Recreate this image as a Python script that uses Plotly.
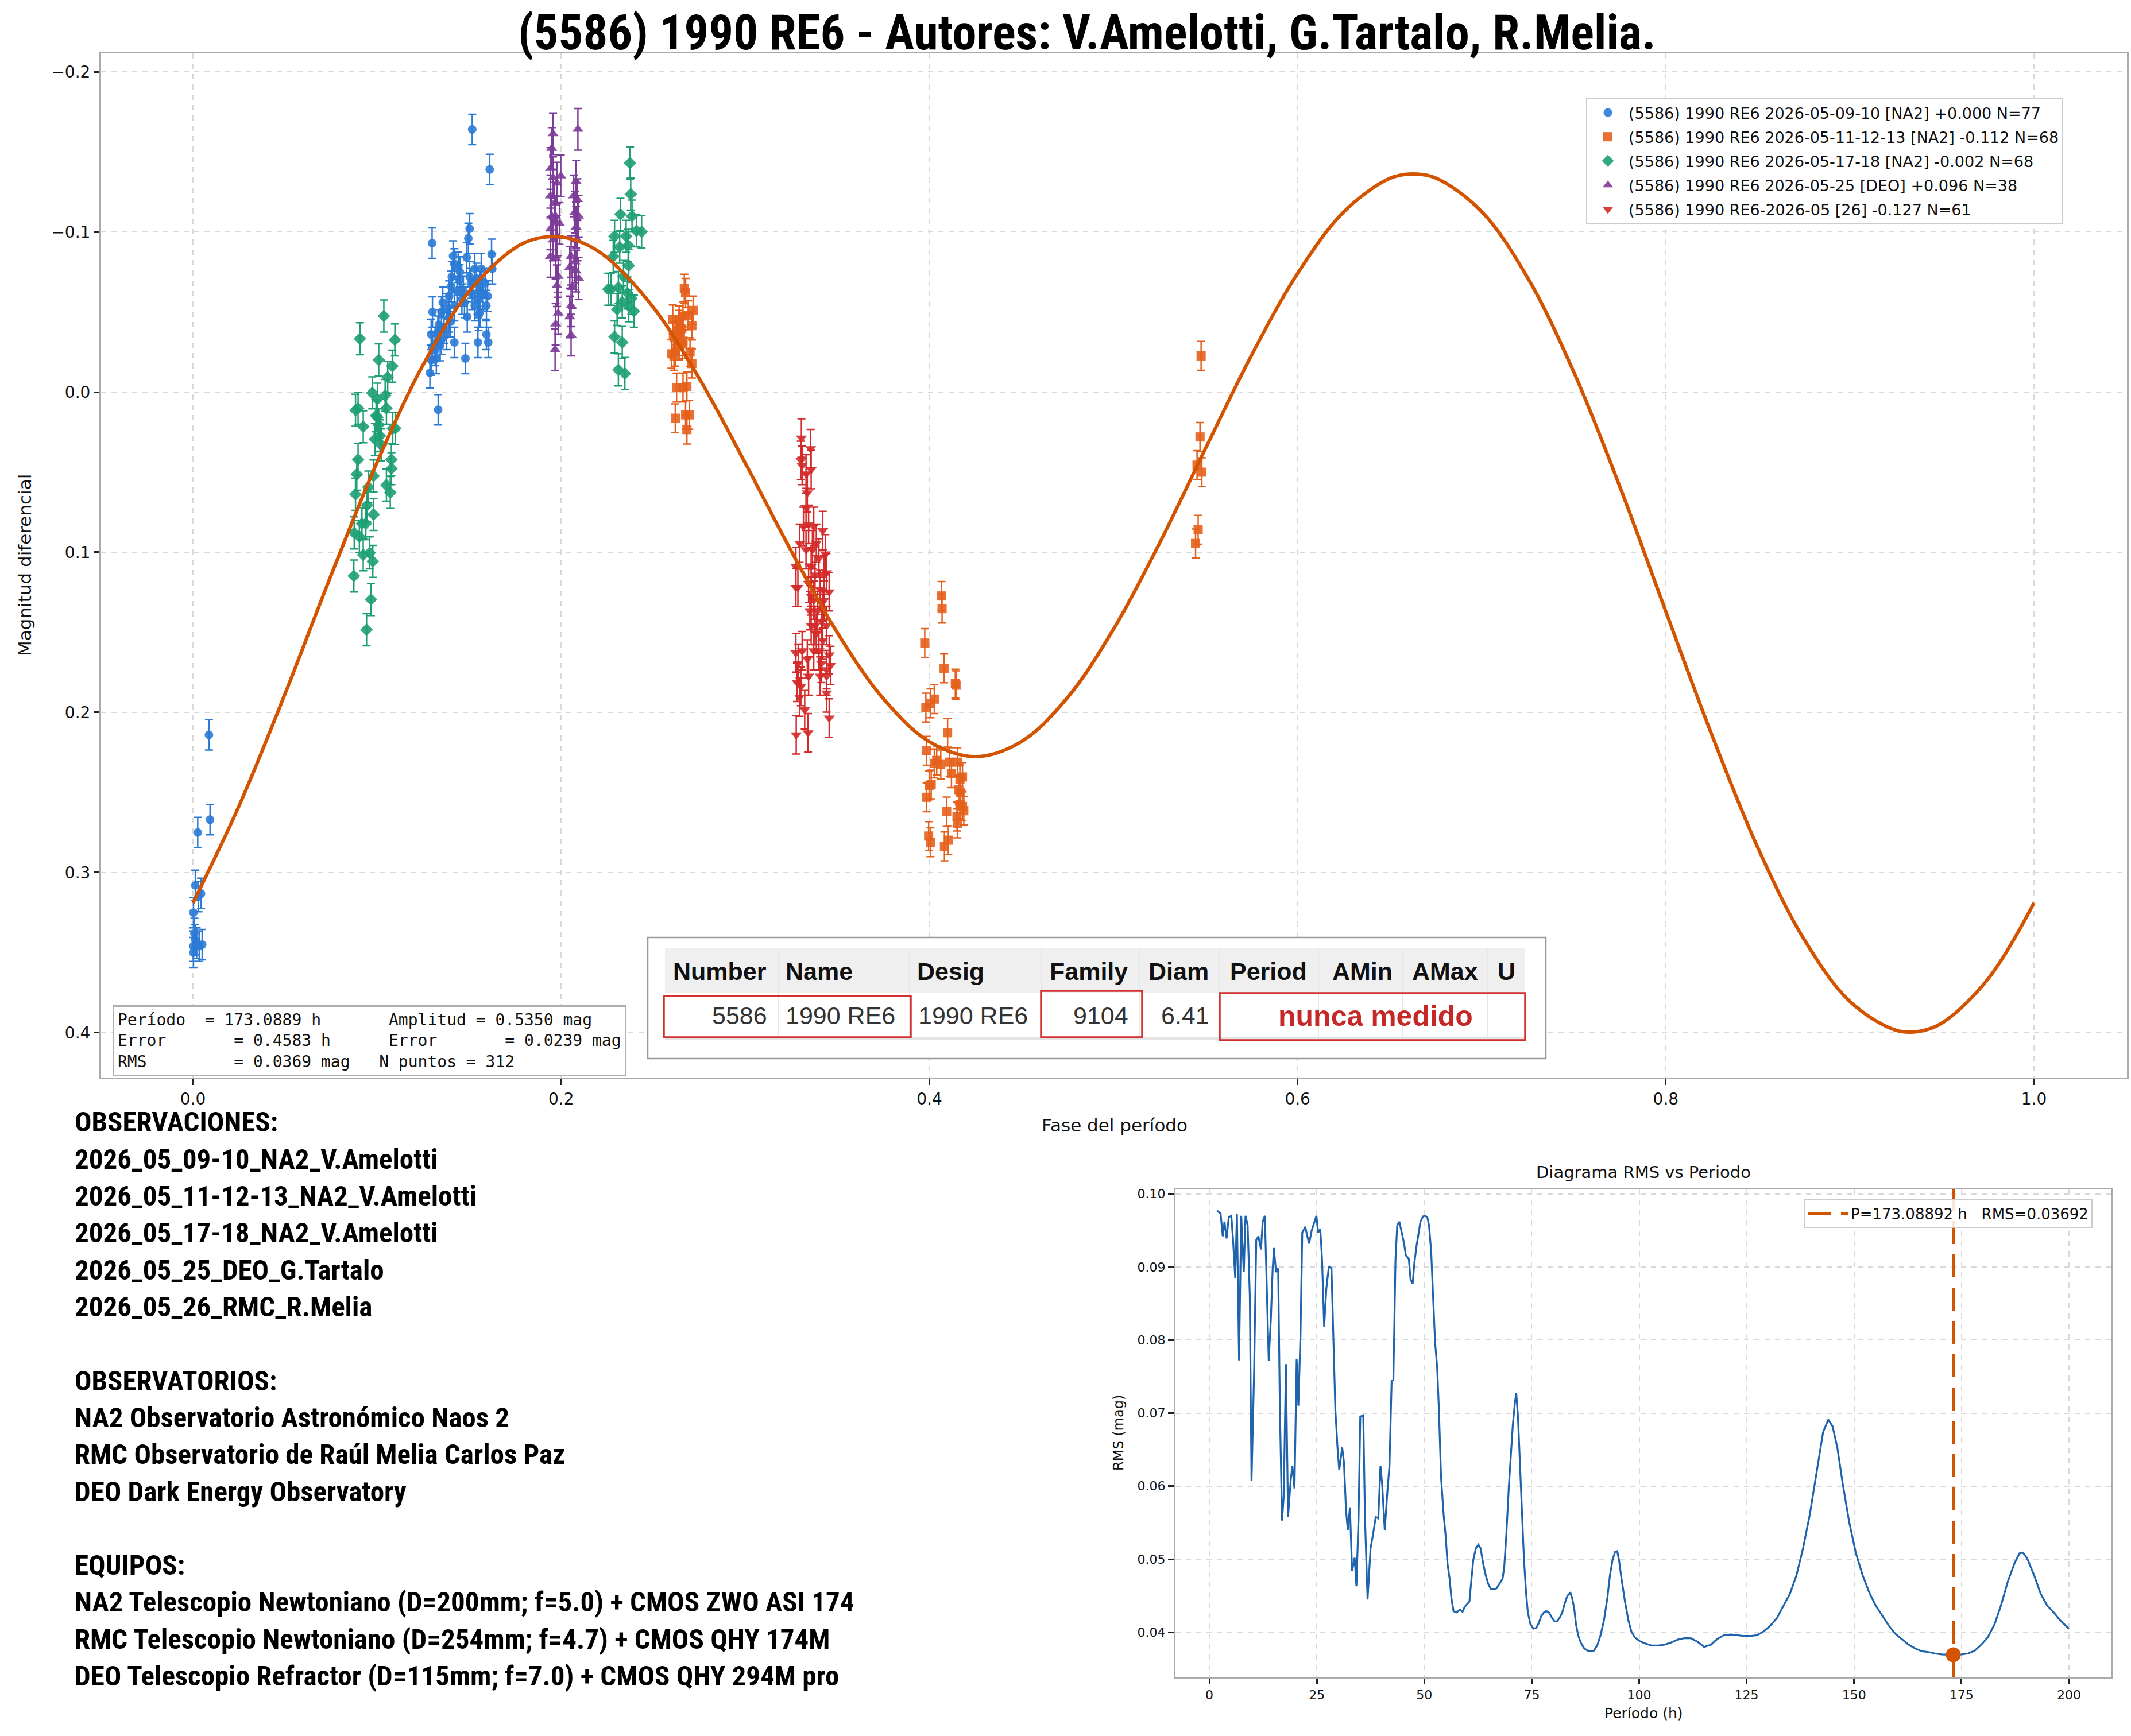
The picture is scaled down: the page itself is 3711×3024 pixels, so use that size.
import plotly.graph_objects as go

W, H = 3711, 3024


def fx(px):
    return px / W


def fy(py):
    return 1 - py / H


# ---------------- text ----------------
TITLE_TEXT = "(5586) 1990 RE6 - Autores: V.Amelotti, G.Tartalo, R.Melia."
SESSION_NAMES = [
    "(5586) 1990 RE6 2026-05-09-10 [NA2] +0.000 N=77",
    "(5586) 1990 RE6 2026-05-11-12-13 [NA2] -0.112 N=68",
    "(5586) 1990 RE6 2026-05-17-18 [NA2] -0.002 N=68",
    "(5586) 1990 RE6 2026-05-25 [DEO] +0.096 N=38",
    "(5586) 1990 RE6-2026-05 [26] -0.127 N=61",
]
NOTES_LINES = [
    "OBSERVACIONES:",
    "2026_05_09-10_NA2_V.Amelotti",
    "2026_05_11-12-13_NA2_V.Amelotti",
    "2026_05_17-18_NA2_V.Amelotti",
    "2026_05_25_DEO_G.Tartalo",
    "2026_05_26_RMC_R.Melia",
    "",
    "OBSERVATORIOS:",
    "NA2 Observatorio Astronómico Naos 2",
    "RMC Observatorio de Raúl Melia Carlos Paz",
    "DEO Dark Energy Observatory",
    "",
    "EQUIPOS:",
    "NA2 Telescopio Newtoniano (D=200mm; f=5.0) + CMOS ZWO ASI 174",
    "RMC Telescopio Newtoniano (D=254mm; f=4.7) + CMOS QHY 174M",
    "DEO Telescopio Refractor (D=115mm; f=7.0) + CMOS QHY 294M pro",
]
TABLE_HEADERS = ["Number", "Name", "Desig", "Family", "Diam", "Period", "AMin", "AMax", "U"]
TABLE_ROW = ["5586", "1990 RE6", "1990 RE6", "9104", "6.41"]
TABLE_NOTE = "nunca medido"

# ---------------- fit results ----------------
PERIOD_H = 173.0889
PERIOD_ERR = 0.4583
AMPLITUDE = 0.5350
AMPLITUDE_ERR = 0.0239
RMS_FIT = 0.0369
N_POINTS = 312
BEST_PERIOD = 173.08892
BEST_RMS = 0.03692

# ---------------- light-curve data ----------------
S1_PHASE = [0.0087, 0.0093, 0.0026, 0.0013, 0.0044, 0.0030, 0.0003, 0.0012, 0.0002, 0.0034,
            0.0003, 0.0020, 0.0050, 0.0008,
            0.1517, 0.1612, 0.1299, 0.1503, 0.1496, 0.1487, 0.1413, 0.1441, 0.1406, 0.1403,
            0.1448, 0.1469, 0.1503, 0.1531, 0.1566, 0.1622, 0.1626, 0.1559, 0.1587, 0.1517,
            0.1545, 0.1573, 0.1531, 0.1559, 0.1552, 0.1594, 0.1357, 0.1301, 0.1392, 0.1364,
            0.1336, 0.1294, 0.1322, 0.1350, 0.1378, 0.1420, 0.1315, 0.1343, 0.1322, 0.1294,
            0.1287, 0.1480, 0.1548, 0.1594, 0.1604, 0.1332, 0.1461, 0.1434, 0.1420, 0.1392,
            0.1380, 0.1450, 0.1510, 0.1560, 0.1330, 0.1400, 0.1475, 0.1300, 0.1350, 0.1540,
            0.1600, 0.1420, 0.1490]
S1_MAG = [0.214, 0.267, 0.275, 0.308, 0.313, 0.315, 0.325, 0.342, 0.346, 0.346,
          0.350, 0.344, 0.345, 0.338,
          -0.164, -0.139, -0.093, -0.102, -0.096, -0.084, -0.085, -0.078, -0.072, -0.066,
          -0.070, -0.063, -0.072, -0.077, -0.077, -0.086, -0.077, -0.066, -0.068, -0.061,
          -0.058, -0.061, -0.054, -0.050, -0.048, -0.054, -0.056, -0.050, -0.047, -0.040,
          -0.042, -0.036, -0.031, -0.033, -0.036, -0.031, -0.026, -0.029, -0.021, -0.020,
          -0.012, -0.021, -0.031, -0.036, -0.031, 0.011, -0.058, -0.063, -0.054, -0.060,
          -0.052, -0.075, -0.068, -0.063, -0.038, -0.044, -0.056, -0.028, -0.050, -0.071,
          -0.060, -0.080, -0.047]

S2_PHASE = [0.2669, 0.2676, 0.2606, 0.2641, 0.2662, 0.2717, 0.2710, 0.2627, 0.2648, 0.2662,
            0.2599, 0.2620, 0.2641, 0.2710, 0.2627, 0.2662, 0.2683, 0.2620, 0.2676, 0.2696,
            0.2683, 0.2613, 0.2655, 0.2640, 0.2660, 0.2690, 0.2610, 0.2700,
            0.4066, 0.4069, 0.3975, 0.4080, 0.4141, 0.4145, 0.3981, 0.4006, 0.4027, 0.4099,
            0.3985, 0.4027, 0.4062, 0.4110, 0.4152, 0.3999, 0.4166, 0.4180, 0.4159, 0.3985,
            0.4094, 0.4166, 0.4187, 0.4152, 0.3996, 0.4006, 0.4103, 0.4082, 0.4180,
            0.4040, 0.4120, 0.4170, 0.4010, 0.4150,
            0.5476, 0.5470, 0.5454, 0.5480, 0.5460, 0.5446]
S2_MAG = [-0.0646, -0.0620, -0.0454, -0.0449, -0.0475, -0.0510, -0.0415, -0.0383, -0.0357, -0.0318,
          -0.0239, -0.0252, -0.0291, -0.0178, -0.0028, -0.0028, -0.0036, 0.0163, 0.0142, 0.0142,
          0.0234, -0.0226, -0.0397, -0.0420, -0.0300, -0.0480, -0.0350, -0.0250,
          0.1273, 0.1352, 0.1567, 0.1725, 0.1820, 0.1830, 0.1970, 0.1943, 0.1917, 0.2127,
          0.2240, 0.2319, 0.2325, 0.2311, 0.2311, 0.2456, 0.2417, 0.2403, 0.2482, 0.2530,
          0.2619, 0.2574, 0.2614, 0.2693, 0.2772, 0.2811, 0.2798, 0.2837, 0.2587,
          0.2300, 0.2380, 0.2500, 0.2450, 0.2650,
          -0.0226, 0.0280, 0.0456, 0.0500, 0.0860, 0.0945]

S3_PHASE = [0.0907, 0.1037, 0.1097, 0.1009, 0.1083, 0.1058, 0.0974, 0.1002, 0.1044, 0.0883,
            0.0897, 0.0925, 0.0995, 0.1009, 0.1051, 0.1085, 0.1099, 0.0988, 0.1023, 0.0897,
            0.1078, 0.0890, 0.0981, 0.1078, 0.1051, 0.1072, 0.0883, 0.0946, 0.0918, 0.0981,
            0.0876, 0.0939, 0.0925, 0.0960, 0.0977, 0.0874, 0.0967, 0.0943, 0.1002, 0.1016,
            0.0953, 0.0904,
            0.2374, 0.2378, 0.2322, 0.2385, 0.2437, 0.2290, 0.2353, 0.2364, 0.2283, 0.2367,
            0.2339, 0.2270, 0.2311, 0.2360, 0.2304, 0.2367, 0.2395, 0.2290, 0.2332, 0.2311,
            0.2346, 0.2318, 0.2409, 0.2256, 0.2332, 0.2381]
S3_MAG = [-0.0333, -0.0475, -0.0326, -0.0201, -0.0162, -0.0093, 0.0005, 0.0044, 0.0021, 0.0113,
          0.0101, 0.0216, 0.0147, 0.0204, 0.0101, 0.0227, 0.0227, 0.0295, 0.0330, 0.0421,
          0.0421, 0.0513, 0.0524, 0.0478, 0.0581, 0.0627, 0.0638, 0.0707, 0.0821, 0.0764,
          0.0879, 0.0821, 0.1016, 0.1004, 0.1057, 0.1148, 0.1295, 0.1484, 0.0158, 0.0273,
          0.0593, 0.0902,
          -0.1430, -0.1236, -0.1110, -0.1099, -0.1001, -0.0973, -0.0973, -0.0916, -0.0847, -0.0790,
          -0.0722, -0.0642, -0.0653, -0.0619, -0.0516, -0.0539, -0.0505, -0.0345, -0.0310, -0.0139,
          -0.0116, -0.0905, -0.1007, -0.0642, -0.0562, -0.0585]

S4_PHASE = [0.1956, 0.1949, 0.1942, 0.1956, 0.1977, 0.1998, 0.1942, 0.1963, 0.1949, 0.1970,
            0.1991, 0.1942, 0.1956, 0.1977, 0.1942, 0.1970, 0.1984, 0.1977, 0.1984, 0.1970,
            0.1967,
            0.2091, 0.2081, 0.2068, 0.2088, 0.2074, 0.2095, 0.2081, 0.2088, 0.2054, 0.2074,
            0.2047, 0.2081, 0.2095, 0.2061, 0.2054, 0.2047, 0.2054]
S4_MAG = [-0.1613, -0.1522, -0.1396, -0.1339, -0.1305, -0.1350, -0.1225, -0.1179, -0.1099, -0.1099,
          -0.1053, -0.1019, -0.0950, -0.0973, -0.0847, -0.0836, -0.0722, -0.0664, -0.0493, -0.0425,
          -0.0265,
          -0.1641, -0.1316, -0.1225, -0.1202, -0.1122, -0.1099, -0.1030, -0.0950, -0.0847, -0.0813,
          -0.0779, -0.0756, -0.0710, -0.0653, -0.0539, -0.0470, -0.0356]

S5_PHASE = [0.3305, 0.3355, 0.3302, 0.3358, 0.3330, 0.3337, 0.3316, 0.3344, 0.3372, 0.3421,
            0.3295, 0.3330, 0.3386, 0.3435, 0.3275, 0.3358, 0.3442, 0.3286, 0.3344, 0.3407,
            0.3456, 0.3372, 0.3428, 0.3414, 0.3442, 0.3358, 0.3275, 0.3309, 0.3337, 0.3400,
            0.3456, 0.3414, 0.3442, 0.3281, 0.3295, 0.3323, 0.3442, 0.3456, 0.3277, 0.3341,
            0.3386, 0.3421, 0.3407, 0.3288, 0.3358, 0.3379, 0.3393, 0.3330, 0.3309, 0.3365,
            0.3400, 0.3351, 0.3442, 0.3428, 0.3275, 0.3302, 0.3344, 0.3372, 0.3463, 0.3421,
            0.3379]
S5_MAG = [0.0287, 0.0353, 0.0426, 0.0484, 0.0511, 0.0629, 0.0839, 0.0826, 0.0839, 0.0865,
          0.0944, 0.0984, 0.0944, 0.1010, 0.1089, 0.1089, 0.1128, 0.1220, 0.1194, 0.1233,
          0.1247, 0.1299, 0.1299, 0.1431, 0.1457, 0.1457, 0.1628, 0.1615, 0.1667, 0.1615,
          0.1641, 0.1694, 0.1733, 0.1812, 0.1904, 0.1983, 0.1878, 0.2035, 0.2140, 0.2127,
          0.1510, 0.1549, 0.1773, 0.1694, 0.1273, 0.1142, 0.1365, 0.0721, 0.0458, 0.0984,
          0.1036, 0.1365, 0.1773, 0.1142, 0.1220, 0.1838, 0.1773, 0.1615, 0.1707, 0.1352,
          0.1457]

SESSION_ERR = [0.0095, 0.0090, 0.0100, 0.0130, 0.0120]

# Fit curve, values
FIT_PHASE = [0.000, 0.025, 0.050, 0.075, 0.100, 0.125, 0.150, 0.175, 0.1875, 0.200,
             0.2125, 0.225, 0.250, 0.275, 0.300, 0.325, 0.350, 0.375, 0.400, 0.425,
             0.450, 0.475, 0.500, 0.525, 0.550, 0.575, 0.600, 0.625, 0.650, 0.6625,
             0.675, 0.700, 0.725, 0.750, 0.775, 0.800, 0.825, 0.850, 0.875, 0.900,
             0.925, 0.9375, 0.950, 0.975, 1.000]
FIT_MAG = [0.3190, 0.2585, 0.1885, 0.1145, 0.0439, -0.0170, -0.0628, -0.0901, -0.0961, -0.0969,
           -0.0928, -0.0839, -0.0530, -0.0085, 0.0443, 0.0993, 0.1502, 0.1914, 0.2183, 0.2276,
           0.2182, 0.1908, 0.1481, 0.0944, 0.0352, -0.0230, -0.0741, -0.1124, -0.1334, -0.1362,
           -0.1337, -0.1127, -0.0713, -0.0126, 0.0589, 0.1369, 0.2140, 0.2845, 0.3415, 0.3805,
           0.3985, 0.3992, 0.3940, 0.3665, 0.3190]

# ---------------- RMS vs period scan ----------------
SCAN_PERIOD = [
    1.8, 2.6, 3.1, 3.5, 4.0, 4.5, 5.1, 5.5, 6.0, 6.4,
    6.9, 7.4, 8.0, 8.4, 8.9, 9.4, 9.8, 10.4, 10.9, 11.4,
    12.0, 12.4, 12.9, 13.4, 13.8, 14.3, 14.7, 15.0, 15.5, 16.0,
    16.4, 16.9, 17.3, 17.8, 18.3, 18.9, 19.3, 19.8, 20.3, 20.7,
    21.2, 21.6, 22.3, 22.7, 23.2, 23.8, 24.4, 24.9, 25.3, 25.8,
    26.2, 26.7, 27.2, 27.8, 28.4, 28.9, 29.3, 29.8, 30.2, 30.9,
    31.3, 31.8, 32.2, 32.7, 33.2, 33.8, 34.2, 34.7, 35.1, 35.8,
    36.2, 36.8, 37.5, 38.1, 38.7, 39.3, 39.8, 40.2, 40.8, 41.4,
    41.9, 42.4, 42.8, 43.3, 43.7, 44.2, 44.7, 45.3, 45.7, 46.4,
    46.8, 47.3, 47.7, 48.2, 48.7, 49.1, 49.7, 50.2, 50.7, 51.1,
    51.6, 52.0, 52.5, 53.0, 53.4, 53.9, 54.5, 55.0, 55.4, 55.9,
    56.3, 56.8, 57.4, 57.9, 58.3, 58.9, 59.4, 59.9, 60.5, 60.9,
    61.4, 62.0, 62.6, 63.1, 63.7, 64.3, 64.9, 65.5, 66.2, 66.8,
    67.5, 68.2, 68.6, 69.1, 69.7, 70.1, 70.6, 71.1, 71.4, 71.8,
    72.3, 72.8, 73.2, 73.7, 74.1, 74.7, 75.4, 76.0, 76.6, 77.2,
    77.8, 78.4, 79.0, 79.7, 80.3, 80.9, 81.5, 82.1, 82.7, 83.3,
    84.0, 84.4, 84.9, 85.3, 85.8, 86.4, 87.2, 88.0, 88.7, 89.5,
    90.3, 91.0, 91.8, 92.6, 93.2, 93.8, 94.4, 94.9, 95.3, 95.9,
    96.7, 97.5, 98.2, 99.0, 100.1, 101.3, 102.8, 104.4, 105.9, 107.4,
    109.0, 110.5, 112.0, 113.6, 115.1, 116.7, 118.2, 119.7, 121.3, 122.8,
    124.3, 125.9, 127.4, 128.9, 130.5, 132.0, 133.5, 135.1, 136.6, 138.1,
    139.7, 141.2, 142.8, 144.0, 145.0, 146.1, 147.4, 148.9, 150.4, 152.0,
    153.5, 155.0, 156.6, 158.1, 159.6, 161.2, 162.7, 164.2, 165.8, 167.3,
    168.8, 170.4, 173.1, 175.0, 176.6, 178.1, 179.6, 181.1, 182.7, 184.2,
    185.7, 187.3, 188.5, 189.3, 190.3, 191.9, 193.4, 194.9, 196.5, 198.0,
    200.0]
SCAN_RMS = [
    .0977, .0973, .0942, .0962, .0939, .0968, .0970, .0937, .0885, .0973,
    .0772, .0970, .0893, .0970, .0957, .0860, .0607, .0757, .0937, .0942,
    .0924, .0962, .0970, .0860, .0772, .0829, .0895, .0926, .0893, .0898,
    .0705, .0553, .0587, .0767, .0558, .0607, .0628, .0597, .0774, .0710,
    .0808, .0947, .0955, .0944, .0932, .0950, .0962, .0970, .0947, .0952,
    .0911, .0818, .0870, .0901, .0898, .0777, .0705, .0653, .0622, .0653,
    .0633, .0566, .0540, .0571, .0484, .0502, .0463, .0556, .0695, .0697,
    .0556, .0445, .0515, .0535, .0558, .0556, .0628, .0602, .0540, .0592,
    .0628, .0744, .0745, .0911, .0957, .0962, .0947, .0932, .0916, .0911,
    .0883, .0877, .0906, .0929, .0947, .0962, .0969, .0970, .0968, .0957,
    .0921, .0860, .0798, .0762, .0705, .0612, .0561, .0530, .0494, .0473,
    .0447, .0429, .0427, .0429, .0431, .0428, .0435, .0438, .0442, .0468,
    .0499, .0515, .0520, .0515, .0494, .0478, .0466, .0459, .0459, .0460,
    .0466, .0473, .0489, .0535, .0602, .0643, .0684, .0715, .0727, .0695,
    .0628, .0550, .0499, .0453, .0427, .0411, .0405, .0406, .0412, .0422,
    .0427, .0429, .0427, .0420, .0415, .0415, .0420, .0427, .0440, .0450,
    .0454, .0447, .0432, .0411, .0396, .0386, .0378, .0375, .0374, .0375,
    .0383, .0396, .0416, .0447, .0478, .0499, .0510, .0511, .0499, .0473,
    .0442, .0416, .0401, .0393, .0388, .0385, .0382, .0382, .0383, .0386,
    .0390, .0392, .0392, .0387, .0380, .0383, .0391, .0396, .0397, .0396,
    .0395, .0395, .0396, .0401, .0409, .0419, .0435, .0453, .0478, .0514,
    .0561, .0617, .0674, .0691, .0682, .0653, .0602, .0550, .0509, .0478,
    .0455, .0437, .0422, .0409, .0398, .0390, .0383, .0378, .0374, .0373,
    .0371, .03697, .03692, .03698, .0371, .0375, .0383, .0393, .0411, .0437,
    .0468, .0494, .0508, .0509, .0501, .0478, .0453, .0437, .0427, .0416,
    .0405]

# ---------------- styles ----------------
COLORS = ["#2B7BD6", "#E4601C", "#1E9E74", "#7D3C98", "#D42A2A"]
SYMBOLS = ["circle", "square", "diamond", "triangle-up", "triangle-down"]
MSIZES = [15, 16, 17, 17, 17]
FIT_COLOR = "#D35400"
SCAN_COLOR = "#1F63AD"
GRID = "#d9d9d9"
FRAME = "#aaaaaa"
COND = "Roboto Condensed, Liberation Sans Narrow, Arial Narrow, Liberation Sans, sans-serif"
SANS = "DejaVu Sans, Verdana, sans-serif"
MONO = "DejaVu Sans Mono, monospace"
TABLE_FONT = "Liberation Sans, Arial, sans-serif"

fig = go.Figure()

phases = [S1_PHASE, S2_PHASE, S3_PHASE, S4_PHASE, S5_PHASE]
mags = [S1_MAG, S2_MAG, S3_MAG, S4_MAG, S5_MAG]
for i in range(5):
    fig.add_trace(go.Scatter(
        x=phases[i], y=mags[i], mode="markers", name=SESSION_NAMES[i],
        legendgroup=f"g{i}",
        marker=dict(symbol=SYMBOLS[i], size=MSIZES[i], color=COLORS[i], opacity=0.9,
                    line=dict(width=0)),
        error_y=dict(type="constant", value=SESSION_ERR[i], color=COLORS[i],
                     thickness=2.5, width=7),
        xaxis="x", yaxis="y",
    ))

fig.add_trace(go.Scatter(
    x=FIT_PHASE, y=FIT_MAG, mode="lines",
    line=dict(color=FIT_COLOR, width=6, shape="spline", smoothing=1.0),
    showlegend=False, xaxis="x", yaxis="y"))

fig.add_trace(go.Scatter(
    x=SCAN_PERIOD, y=SCAN_RMS, mode="lines", line=dict(color=SCAN_COLOR, width=3.2),
    showlegend=False, xaxis="x2", yaxis="y2"))
fig.add_trace(go.Scatter(
    x=[BEST_PERIOD], y=[BEST_RMS], mode="markers",
    marker=dict(color=FIT_COLOR, size=26), showlegend=False, xaxis="x2", yaxis="y2"))

axis_common = dict(
    showgrid=True, gridcolor=GRID, griddash="dash", gridwidth=2,
    showline=True, linecolor=FRAME, linewidth=3, mirror=True,
    ticks="outside", ticklen=10, tickwidth=2.5, tickcolor="#222",
    zeroline=False, automargin=False,
)

shapes = []
annotations = []

# vertical best-period line (with its own legend entry)
shapes.append(dict(
    type="line", xref="x2", yref="y2 domain", x0=BEST_PERIOD, x1=BEST_PERIOD, y0=0, y1=1,
    line=dict(color=FIT_COLOR, width=5, dash="40px,18px"),
    showlegend=True, legend="legend2",
    name=f"P={BEST_PERIOD:.5f} h\u00a0\u00a0\u00a0RMS={BEST_RMS:.5f}",
))

# ---------------- table inset ----------------
COL_EDGES = [1158, 1355, 1584, 1813, 1985, 2124, 2296, 2443, 2590, 2656]
shapes.append(dict(type="rect", xref="paper", yref="paper", x0=fx(1128), x1=fx(2692),
                   y0=fy(1844), y1=fy(1633), line=dict(color="#9a9a9a", width=2.5),
                   fillcolor="white", layer="above"))
shapes.append(dict(type="rect", xref="paper", yref="paper", x0=fx(COL_EDGES[0]), x1=fx(COL_EDGES[-1]),
                   y0=fy(1730), y1=fy(1651), line=dict(width=0), fillcolor="#efefef", layer="above"))
shapes.append(dict(type="line", xref="paper", yref="paper", x0=fx(COL_EDGES[0]), x1=fx(COL_EDGES[-1]),
                   y0=fy(1809), y1=fy(1809), line=dict(color="#e4e4e4", width=4), layer="above"))
for e in COL_EDGES[1:-1]:
    shapes.append(dict(type="line", xref="paper", yref="paper", x0=fx(e), x1=fx(e),
                       y0=fy(1807), y1=fy(1651), line=dict(color="#e6e6e6", width=2), layer="above"))
for (x0, y0, x1, y1) in [(1156, 1735, 1586, 1807), (1813, 1726, 1989, 1807), (2124, 1730, 2656, 1812)]:
    shapes.append(dict(type="rect", xref="paper", yref="paper", x0=fx(x0), x1=fx(x1),
                       y0=fy(y1), y1=fy(y0), line=dict(color="#D32F2F", width=3.5), layer="above"))

HEADER_X = [1170, 1366, 1595, 1826, 1998, 2140, 2318, 2457, 2606]
for txt, x in zip(TABLE_HEADERS, HEADER_X):
    annotations.append(dict(text=txt, x=fx(x), y=fy(1692), xref="paper", yref="paper",
                            xanchor="left", yanchor="middle", showarrow=False,
                            font=dict(family=TABLE_FONT, size=43, color="#111", weight="bold")))
ROW_POS = [(1338, "right"), (1366, "left"), (1597, "left"), (1967, "right"), (2108, "right")]
for txt, (x, anc) in zip(TABLE_ROW, ROW_POS):
    annotations.append(dict(text=txt, x=fx(x), y=fy(1769), xref="paper", yref="paper",
                            xanchor=anc, yanchor="middle", showarrow=False,
                            font=dict(family=TABLE_FONT, size=43, color="#333")))
annotations.append(dict(text=TABLE_NOTE, x=fx(2395), y=fy(1770), xref="paper", yref="paper",
                        xanchor="center", yanchor="middle", showarrow=False,
                        font=dict(family=TABLE_FONT, size=50, color="#C62828", weight="bold")))

# ---------------- stats box ----------------
NB = "\u00a0"
stats_lines = [
    f"Período{NB*2}={NB}{PERIOD_H:.4f}{NB}h{NB*7}Amplitud{NB}={NB}{AMPLITUDE:.4f}{NB}mag",
    f"Error{NB*7}={NB}{PERIOD_ERR:.4f}{NB}h{NB*6}Error{NB*7}={NB}{AMPLITUDE_ERR:.4f}{NB}mag",
    f"RMS{NB*9}={NB}{RMS_FIT:.4f}{NB}mag{NB*3}N{NB}puntos{NB}={NB}{N_POINTS}",
]
annotations.append(dict(text="<br>".join(stats_lines), x=fx(196), y=fy(1751), xref="paper", yref="paper",
                        xanchor="left", yanchor="top", align="left", showarrow=False,
                        bgcolor="white", bordercolor="#b0b0b0", borderwidth=3, borderpad=6,
                        font=dict(family=MONO, size=28, color="#111")))

# ---------------- titles / labels ----------------
annotations.append(dict(text=TITLE_TEXT, x=fx(1893), y=fy(57), xref="paper", yref="paper",
                        xanchor="center", yanchor="middle", showarrow=False,
                        font=dict(family=COND, size=85, color="#000", weight="bold")))
annotations.append(dict(text="Magnitud diferencial", x=fx(43), y=fy(985), xref="paper", yref="paper",
                        xanchor="center", yanchor="middle", textangle=-90, showarrow=False,
                        font=dict(family=SANS, size=31, color="#111")))
annotations.append(dict(text="Fase del período", x=fx(1941), y=fy(1960), xref="paper", yref="paper",
                        xanchor="center", yanchor="middle", showarrow=False,
                        font=dict(family=SANS, size=31, color="#111")))
annotations.append(dict(text="Diagrama RMS vs Periodo", x=fx(2862), y=fy(2042), xref="paper", yref="paper",
                        xanchor="center", yanchor="middle", showarrow=False,
                        font=dict(family=SANS, size=29, color="#111")))
annotations.append(dict(text="RMS (mag)", x=fx(1948), y=fy(2496), xref="paper", yref="paper",
                        xanchor="center", yanchor="middle", textangle=-90, showarrow=False,
                        font=dict(family=SANS, size=24, color="#111")))
annotations.append(dict(text="Período (h)", x=fx(2862), y=fy(2984), xref="paper", yref="paper",
                        xanchor="center", yanchor="middle", showarrow=False,
                        font=dict(family=SANS, size=25, color="#111")))

for i, line in enumerate(NOTES_LINES):
    if not line:
        continue
    annotations.append(dict(text=line, x=fx(128), y=fy(1955 + i * 64.3), xref="paper", yref="paper",
                            xanchor="left", yanchor="middle", showarrow=False,
                            font=dict(family=COND, size=49, color="#000", weight="bold")))

fig.update_layout(
    width=W, height=H, margin=dict(l=0, r=0, t=0, b=0),
    paper_bgcolor="white", plot_bgcolor="white",
    template="none",
    xaxis=dict(domain=[fx(176), fx(3704)], range=[-0.0499, 1.0505],
               tickvals=[0, 0.2, 0.4, 0.6, 0.8, 1.0], tickformat=".1f",
               tickfont=dict(family=SANS, size=28, color="#111"), anchor="y", **axis_common),
    yaxis=dict(domain=[fy(1877), fy(93)], range=[0.428, -0.2115],
               tickvals=[-0.2, -0.1, 0.0, 0.1, 0.2, 0.3, 0.4], tickformat=".1f",
               tickfont=dict(family=SANS, size=28, color="#111"), anchor="x", **axis_common),
    xaxis2=dict(domain=[fx(2047), fx(3677)], range=[-7.9, 209.9],
                tickvals=[0, 25, 50, 75, 100, 125, 150, 175, 200],
                tickfont=dict(family=SANS, size=22, color="#111"), anchor="y2", **axis_common),
    yaxis2=dict(domain=[fy(2921), fy(2072)], range=[0.0339, 0.1006],
                tickvals=[0.04, 0.05, 0.06, 0.07, 0.08, 0.09, 0.10], tickformat=".2f",
                tickfont=dict(family=SANS, size=22, color="#111"), anchor="x2", **axis_common),
    legend=dict(x=fx(2762), y=fy(170), xanchor="left", yanchor="top",
                bgcolor="white", bordercolor="#cccccc", borderwidth=2,
                font=dict(family=SANS, size=27, color="#111"),
                tracegroupgap=4, itemsizing="trace", itemwidth=62),
    legend2=dict(x=fx(3141), y=fy(2088), xanchor="left", yanchor="top",
                 bgcolor="rgba(255,255,255,0.85)", bordercolor="#cccccc", borderwidth=2,
                 font=dict(family=SANS, size=26, color="#111"), itemwidth=70),
    shapes=shapes,
    annotations=annotations,
    showlegend=True,
)

fig.write_html("out.html")
